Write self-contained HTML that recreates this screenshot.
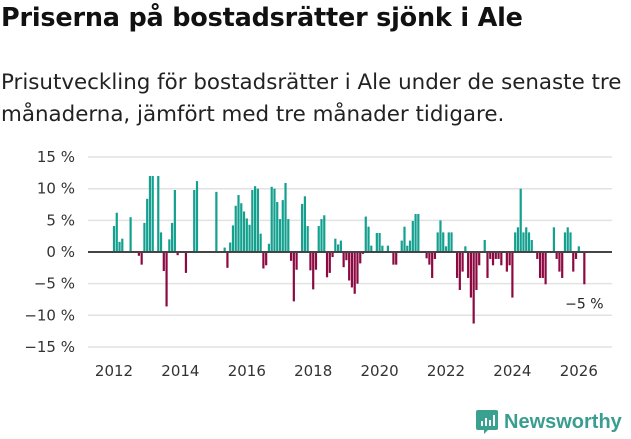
<!DOCTYPE html>
<html><head><meta charset="utf-8"><style>
body{margin:0;width:631px;height:439px;background:#fff;font-family:"DejaVu Sans","Liberation Sans",sans-serif;overflow:hidden;position:relative}
#title{position:absolute;left:1px;top:3px;font-size:25.5px;font-weight:bold;color:#111;margin:0;white-space:nowrap;letter-spacing:-0.2px}
#sub{position:absolute;left:1px;top:67px;font-size:21.4px;line-height:32px;color:#222;width:629px}
svg{position:absolute;left:0;top:0}
</style></head><body>
<h1 id="title">Priserna på bostadsrätter sjönk i Ale</h1>
<div id="sub">Prisutveckling för bostadsrätter i Ale under de senaste tre månaderna, jämfört med tre månader tidigare.</div>
<svg id="chart" width="631" height="439"></svg>
<div style="position:absolute;left:476px;top:409px;display:flex;align-items:center">
<svg width="22" height="26" style="position:static"><path d="M2 1h18a2 2 0 0 1 2 2v16a2 2 0 0 1-2 2H12l-4 4v-4H2a2 2 0 0 1-2-2V3a2 2 0 0 1 2-2z" fill="#3aa08f"/><rect x="5" y="12" width="2" height="5" fill="#fff"/><rect x="9" y="9" width="2" height="8" fill="#fff"/><rect x="13" y="11" width="2" height="6" fill="#fff"/><rect x="17" y="6" width="2" height="11" fill="#fff"/></svg>
<span style="margin-left:6px;font-size:20px;font-weight:bold;color:#3a9d8f;font-family:'Liberation Sans',sans-serif">Newsworthy</span></div>
<script>
const values=[4.1,6.2,1.6,2.1,0,0,5.5,0,0,-0.6,-2,4.6,8.4,12,12,0,12,3.1,-3,-8.6,2,4.6,9.8,-0.5,0,0,-3.3,0,0,9.8,11.2,0,0,0,0,0,0,9.5,0,0,0.7,-2.5,1.5,4.2,7.3,9,7.7,6.4,5.3,4.3,9.8,10.4,10,2.9,-2.6,-2.1,1.3,10.3,
10,7.9,5.2,8.2,10.9,5.2,-1.4,-7.8,-2.8,0,7.6,8.8,4.1,-2.9,-5.9,-2.8,4.1,5.2,5.8,-4,-3.3,-0.8,2.1,1.2,1.8,-2.4,-1.3,-4.5,-5.6,-6.6,-5,-1.8,-0.3,5.6,4,1,0,3,3,1,0,1,0,-2,-2,0,1.8,4,1,1.8,4.9,6,6,0,0,-1,-2,-4.1,-1.1,3.1,5,3.1,0.9,3.1,3.1,0,-4.1,-6,-3.1,0.9,-4.1,-7.2,-11.3,-6,-2.1,0,1.9,-4.1,-1.1,-2.1,-1.1,-1.1,-2.1,0,-3.1,-2.1,-7.2,3.1,3.9,10,3.1,3.9,3.1,1.9,0,-1.1,-4.1,-4.1,-5.1,0,0,3.9,-1.1,-3.1,-4.1,3.1,3.9,3.1,-3.1,-1.1,0.9,0,-5.1];
const startYear=2012;
const yTicks=[15,10,5,0,-5,-10,-15];
const yTickLabels=["15 %","10 %","5 %","0 %","\u22125 %","\u221210 %","\u221215 %"];
const xTicks=[2012,2014,2016,2018,2020,2022,2024,2026];
const lastLabel="\u22125 %";
const svg=document.getElementById('chart');
const NS='http://www.w3.org/2000/svg';
const y=v=>252-v*6.33;
const x=yr=>114+(yr-2012)*33.2;
const xm=i=>x(startYear+i/12);
function mk(t,a){const e=document.createElementNS(NS,t);for(const k in a)e.setAttribute(k,a[k]);svg.appendChild(e);return e;}
yTicks.forEach((t,k)=>{
 const g=mk('line',{x1:88,x2:612,y1:y(t),y2:y(t),stroke:'#e2e2e2','stroke-width':1.5});
 
 
 const l=mk('text',{x:75,y:y(t)+5,'text-anchor':'end','font-size':15,fill:'#333'});
 l.textContent=yTickLabels[k];
 
 
});
xTicks.forEach(t=>{
 const l=mk('text',{x:x(t),y:376,'text-anchor':'middle','font-size':15,fill:'#333'});
 l.textContent=t;
 
 
});
values.forEach((v,i)=>{
 if(v===0)return;
 const b=mk('rect',{x:xm(i)-1.1,width:2.2,y:Math.min(y(v),y(0)),height:Math.abs(y(v)-y(0)),fill:v>0?'#13a08f':'#8c0a41'});
 
 
});
const z=mk('line',{x1:88,x2:612,y1:y(0),y2:y(0),stroke:'#444','stroke-width':2});


const ll=mk('text',{x:xm(values.length-1),y:y(values[values.length-1])+24,'text-anchor':'middle','font-size':14,fill:'#222'});
ll.textContent=lastLabel;


</script>
</body></html>
